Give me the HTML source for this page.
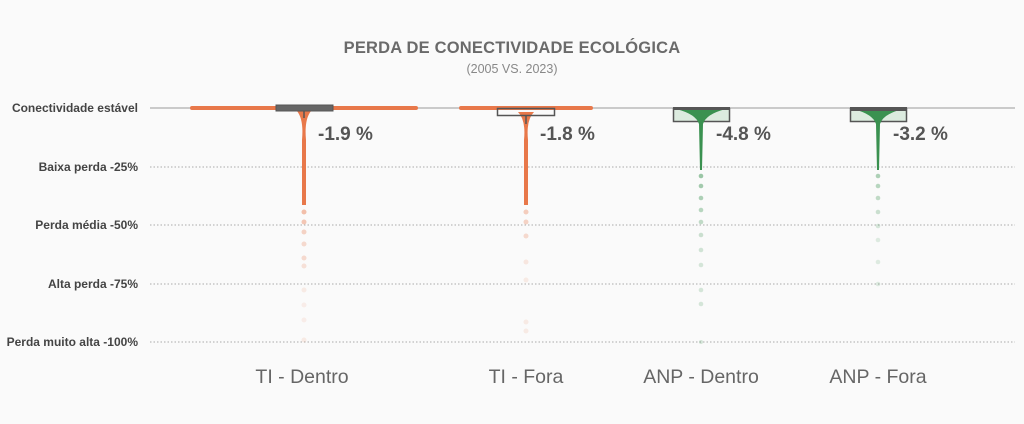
<!DOCTYPE html>
<html><head><meta charset="utf-8"><style>
body{margin:0;background:#fafafa;}
svg{display:block;font-family:"Liberation Sans",sans-serif;}
</style></head><body>
<svg width="1024" height="424" viewBox="0 0 1024 424">
<rect width="1024" height="424" fill="#fafafa"/>
<text x="512" y="53" text-anchor="middle" font-size="16.5" font-weight="bold" fill="#6a6a6a" letter-spacing="0.2">PERDA DE CONECTIVIDADE ECOLÓGICA</text>
<text x="512" y="73" text-anchor="middle" font-size="12.5" fill="#888">(2005 VS. 2023)</text>
<g stroke="#aaa" stroke-width="1" stroke-dasharray="1.5,2">
<line x1="150" y1="108" x2="1015" y2="108" stroke="#999" stroke-dasharray="none" stroke-width="1"/>
<line x1="150" y1="167" x2="1015" y2="167"/>
<line x1="150" y1="225" x2="1015" y2="225"/>
<line x1="150" y1="284" x2="1015" y2="284"/>
<line x1="150" y1="342" x2="1015" y2="342"/>
</g>
<g font-size="12" font-weight="bold" fill="#444" text-anchor="end">
<text x="138" y="112">Conectividade estável</text>
<text x="138" y="171">Baixa perda -25%</text>
<text x="138" y="229">Perda média -50%</text>
<text x="138" y="288">Alta perda -75%</text>
<text x="138" y="346">Perda muito alta -100%</text>
</g>
<!-- TI Dentro -->
<rect x="190" y="106" width="228" height="4" rx="2" fill="#e8784a"/>
<path d="M296 110 Q304 118 302 140 L302 205 L306 205 L306 140 Q304 118 312 110Z" fill="#e8784a"/>
<g fill="#e8784a">
<circle cx="304" cy="212" r="2.5" opacity=".45"/><circle cx="304" cy="222" r="2.5" opacity=".4"/><circle cx="304" cy="232" r="2.5" opacity=".3"/>
<circle cx="304" cy="244" r="2.5" opacity=".25"/><circle cx="304" cy="258" r="2.5" opacity=".25"/><circle cx="304" cy="266" r="2.5" opacity=".2"/>
<circle cx="304" cy="290" r="2.5" opacity=".12"/><circle cx="304" cy="305" r="2.5" opacity=".1"/><circle cx="304" cy="320" r="2.5" opacity=".1"/><circle cx="304" cy="340" r="2.5" opacity=".12"/>
</g>
<rect x="276" y="105" width="57" height="6" fill="#666" stroke="#555"/>
<line x1="304" y1="111" x2="304" y2="118" stroke="#555" stroke-width="1.5"/>
<text x="318" y="140" font-size="19" font-weight="bold" fill="#555">-1.9 %</text>
<!-- TI Fora -->
<rect x="459" y="106" width="134" height="4" rx="2" fill="#e8784a"/>
<path d="M518 112 Q526 120 524 140 L524 205 L528 205 L528 140 Q526 120 534 112Z" fill="#e8784a"/>
<g fill="#e8784a">
<circle cx="526" cy="212" r="2.5" opacity=".35"/><circle cx="526" cy="222" r="2.5" opacity=".3"/><circle cx="526" cy="236" r="2.5" opacity=".25"/>
<circle cx="526" cy="262" r="2.5" opacity=".15"/><circle cx="526" cy="280" r="2.5" opacity=".12"/><circle cx="526" cy="322" r="2.5" opacity=".12"/><circle cx="526" cy="331" r="2.5" opacity=".12"/>
</g>
<rect x="497.5" y="108.5" width="57" height="7" fill="none" stroke="#555" stroke-width="1.5"/>
<line x1="526" y1="116" x2="526" y2="124" stroke="#555" stroke-width="1.5"/>
<text x="540" y="140" font-size="19" font-weight="bold" fill="#555">-1.8 %</text>
<!-- ANP Dentro -->
<rect x="673.5" y="108.5" width="56" height="13" fill="#dcebdf" stroke="#555" stroke-width="1.5"/>
<path d="M676 109 L726 109 Q706 114 703 124 L702 170 L700 170 L699 124 Q696 114 676 109Z" fill="#3a9150"/>
<g fill="#3a9150">
<circle cx="701" cy="176" r="2.3" opacity=".5"/><circle cx="701" cy="186" r="2.3" opacity=".45"/><circle cx="701" cy="198" r="2.3" opacity=".4"/>
<circle cx="701" cy="210" r="2.3" opacity=".35"/><circle cx="701" cy="222" r="2.3" opacity=".3"/><circle cx="701" cy="235" r="2.3" opacity=".25"/>
<circle cx="701" cy="250" r="2.3" opacity=".22"/><circle cx="701" cy="265" r="2.3" opacity=".2"/><circle cx="701" cy="290" r="2.3" opacity=".2"/><circle cx="701" cy="304" r="2.3" opacity=".2"/><circle cx="701" cy="342" r="2" opacity=".2"/>
</g>
<rect x="673" y="107" width="57" height="3" fill="#555"/>
<text x="716" y="140" font-size="19" font-weight="bold" fill="#555">-4.8 %</text>
<!-- ANP Fora -->
<rect x="850.5" y="108.5" width="56" height="13" fill="#dcebdf" stroke="#555" stroke-width="1.5"/>
<path d="M853 109 L903 109 Q883 114 880 124 L879 170 L877 170 L876 124 Q873 114 853 109Z" fill="#3a9150"/>
<g fill="#3a9150">
<circle cx="878" cy="176" r="2.3" opacity=".4"/><circle cx="878" cy="186" r="2.3" opacity=".35"/><circle cx="878" cy="198" r="2.3" opacity=".3"/>
<circle cx="878" cy="212" r="2.3" opacity=".25"/><circle cx="878" cy="226" r="2.3" opacity=".2"/><circle cx="878" cy="240" r="2.3" opacity=".15"/><circle cx="878" cy="262" r="2.3" opacity=".15"/><circle cx="878" cy="284" r="2.3" opacity=".15"/>
</g>
<rect x="850" y="107" width="57" height="4" fill="#555"/>
<text x="893" y="140" font-size="19" font-weight="bold" fill="#555">-3.2 %</text>
<g font-size="19.5" fill="#666" text-anchor="middle">
<text x="302" y="383">TI - Dentro</text>
<text x="526" y="383">TI - Fora</text>
<text x="701" y="383">ANP - Dentro</text>
<text x="878" y="383">ANP -  Fora</text>
</g>
</svg>
</body></html>
